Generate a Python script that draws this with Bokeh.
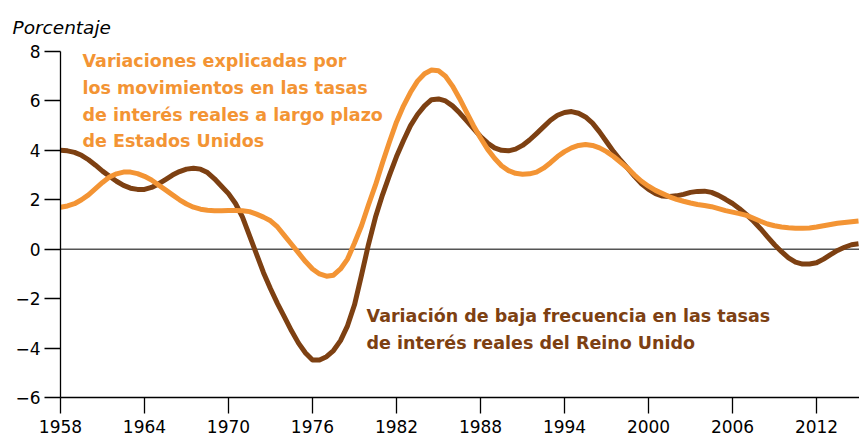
from bokeh.plotting import figure
from bokeh.models import Range1d, FixedTicker, Label, Span
from bokeh.embed import file_html
from bokeh.resources import INLINE

# ---- data (read at half-year steps, 1958.0 ... 2015.0) ----
years = [1958 + 0.5 * i for i in range(115)]
uk_low_freq = [
    4.0, 3.98, 3.92, 3.8, 3.62, 3.4, 3.16, 2.95, 2.75, 2.58,          # 1958-1962.5
    2.47, 2.42, 2.42, 2.5, 2.64, 2.82, 3.0, 3.14, 3.24, 3.28,         # 1963-1967.5
    3.24, 3.1, 2.85, 2.55, 2.25, 1.85, 1.3, 0.55, -0.2, -0.95,        # 1968-1972.5
    -1.6, -2.2, -2.75, -3.3, -3.8, -4.2, -4.48, -4.48, -4.35, -4.1,   # 1973-1977.5
    -3.7, -3.1, -2.25, -1.05, 0.2, 1.3, 2.2, 3.0, 3.75, 4.4,          # 1978-1982.5
    5.0, 5.45, 5.8, 6.05, 6.08, 6.0, 5.8, 5.52, 5.2, 4.88,            # 1983-1987.5
    4.56, 4.3, 4.1, 4.0, 3.98, 4.05, 4.2, 4.42, 4.68, 4.95,           # 1988-1992.5
    5.22, 5.42, 5.53, 5.57, 5.5, 5.35, 5.1, 4.75, 4.35, 3.95,         # 1993-1997.5
    3.6, 3.28, 2.95, 2.65, 2.42, 2.25, 2.15, 2.13, 2.16, 2.22,        # 1998-2002.5
    2.3, 2.34, 2.35, 2.3, 2.18, 2.02, 1.85, 1.64, 1.4, 1.13,          # 2003-2007.5
    0.83, 0.5, 0.18, -0.1, -0.35, -0.52, -0.6, -0.6, -0.55, -0.4,     # 2008-2012.5
    -0.22, -0.05, 0.08, 0.18, 0.22]                                   # 2013-2015
us_explained = [
    1.7, 1.75, 1.84, 2.0, 2.2, 2.45, 2.7, 2.92, 3.05, 3.12,           # 1958-1962.5
    3.12, 3.06, 2.95, 2.8, 2.6, 2.4, 2.2, 2.0, 1.83, 1.7,             # 1963-1967.5
    1.62, 1.58, 1.56, 1.56, 1.57, 1.57, 1.56, 1.52, 1.42, 1.3,        # 1968-1972.5
    1.15, 0.9, 0.55, 0.2, -0.15, -0.5, -0.8, -1.0, -1.09, -1.05,      # 1973-1977.5
    -0.8, -0.4, 0.25, 0.95, 1.8, 2.6, 3.5, 4.35, 5.15, 5.8,           # 1978-1982.5
    6.35, 6.8, 7.1, 7.25, 7.22, 7.0, 6.6, 6.1, 5.55, 5.0,             # 1983-1987.5
    4.5, 4.05, 3.68, 3.38, 3.18, 3.07, 3.03, 3.05, 3.12, 3.28,        # 1988-1992.5
    3.5, 3.75, 3.95, 4.1, 4.2, 4.24, 4.2, 4.1, 3.95, 3.75,            # 1993-1997.5
    3.52, 3.28, 3.0, 2.75, 2.55, 2.38, 2.25, 2.12, 2.02, 1.94,        # 1998-2002.5
    1.87, 1.81, 1.77, 1.72, 1.64, 1.56, 1.5, 1.44, 1.37, 1.25,        # 2003-2007.5
    1.13, 1.02, 0.95, 0.9, 0.87, 0.85, 0.85, 0.86, 0.9, 0.95,         # 2008-2012.5
    1.0, 1.05, 1.08, 1.11, 1.14]                                      # 2013-2015
x_ticks = [1958, 1964, 1970, 1976, 1982, 1988, 1994, 2000, 2006, 2012]
y_ticks = [-6, -4, -2, 0, 2, 4, 6, 8]
y_tick_labels = ["\u22126", "\u22124", "\u22122", "0", "2", "4", "6", "8"]

orange_text = ["Variaciones explicadas por",
               "los movimientos en las tasas",
               "de inter\u00e9s reales a largo plazo",
               "de Estados Unidos"]
brown_text = ["Variaci\u00f3n de baja frecuencia en las tasas",
              "de inter\u00e9s reales del Reino Unido"]

BROWN = "#7d4012"
ORANGE = "#f39434"
FONT = "DejaVu Sans"

p = figure(width=859, height=438, output_backend="svg", toolbar_location=None,
           x_range=Range1d(1958, 2015.07), y_range=Range1d(-6, 8),
           min_border_left=60, min_border_right=0, min_border_top=50,
           min_border_bottom=41)
p.outline_line_color = None
p.grid.visible = False
p.background_fill_color = "white"
p.border_fill_color = "white"

p.title.text = "Porcentaje"
p.title.align = "left"
p.title.offset = -48
p.title.standoff = 28
p.title.text_font = FONT
p.title.text_font_style = "italic"
p.title.text_font_size = "18.5px"
p.title.text_color = "black"

for ax in (p.xaxis[0], p.yaxis[0]):
    ax.axis_line_color = "black"
    ax.axis_line_width = 1.3
    ax.major_tick_line_color = "black"
    ax.major_tick_line_width = 1.3
    ax.major_tick_out = 16
    ax.major_tick_in = 0
    ax.minor_tick_line_color = None
    ax.major_label_text_font = FONT
    ax.major_label_text_font_size = "17px"
    ax.major_label_text_color = "black"

p.xaxis[0].ticker = FixedTicker(ticks=x_ticks)
p.xaxis[0].major_label_standoff = 6
p.yaxis[0].ticker = FixedTicker(ticks=y_ticks)
p.yaxis[0].major_label_overrides = {t: s for t, s in zip(y_ticks, y_tick_labels)}
p.yaxis[0].major_label_standoff = 4

p.add_layout(Span(location=0, dimension="width", line_color="#555555",
                  line_width=1.6, level="underlay"))

p.line(years, uk_low_freq, line_color=BROWN, line_width=5, line_join="round")
p.line(years, us_explained, line_color=ORANGE, line_width=5, line_join="round")

# annotations
for i, t in enumerate(orange_text):
    p.add_layout(Label(x=1959.57, y=7.6 - i * 1.075, text=t, text_color=ORANGE,
                       text_font=FONT, text_font_style="bold",
                       text_font_size="17.5px", text_baseline="alphabetic"))
for i, t in enumerate(brown_text):
    p.add_layout(Label(x=1979.86, y=-2.69 - i * 1.12, text=t, text_color=BROWN,
                       text_font=FONT, text_font_style="bold",
                       text_font_size="17.5px", text_baseline="alphabetic"))

open("out.html", "w").write(file_html(p, INLINE))
